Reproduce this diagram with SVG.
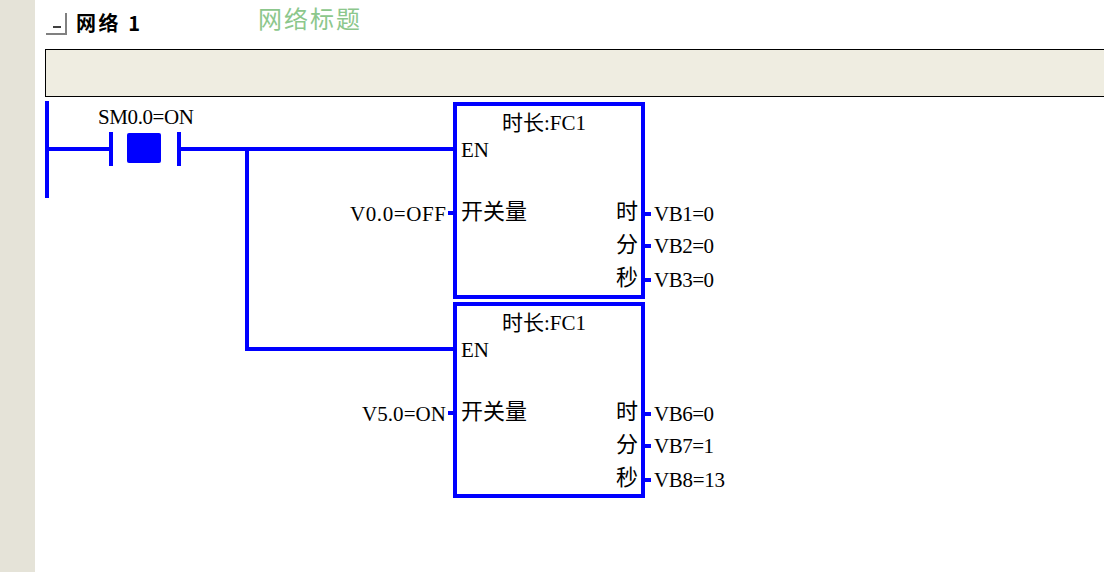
<svg xmlns="http://www.w3.org/2000/svg" width="1104" height="572" viewBox="0 0 1104 572">
<style>
.w{stroke:#0000ff;stroke-width:4;fill:none}
.t{font-family:"Liberation Serif","Noto Sans CJK SC",serif;font-size:21px;fill:#000}
.c{font-family:"Noto Sans CJK SC",sans-serif;font-size:22px;fill:#000}
.box{stroke:#0000ff;stroke-width:4;fill:#fff}
</style>
<rect x="0" y="0" width="1104" height="572" fill="#fff"/>
<rect x="0" y="0" width="35" height="572" fill="#e5e3d8"/>
<g id="header">
<path d="M46 34 H66 V13" stroke="#808080" stroke-width="2" fill="none"/>
<line x1="53" y1="27" x2="61" y2="27" stroke="#000" stroke-width="1.5"/>
<text x="76" y="31" font-family="'Noto Sans CJK SC',sans-serif" font-size="20" font-weight="bold" textLength="64">网络 1</text>
<text x="258" y="28" font-family="'Noto Sans CJK SC',sans-serif" font-size="24" fill="#8cc78c" textLength="102">网络标题</text>
<rect x="45.5" y="49.5" width="1070" height="47" fill="#efede1" stroke="#000" stroke-width="1"/>
</g>
<g id="connectors">
<line class="w" x1="47" y1="101" x2="47" y2="198"/>
<line class="w" x1="47" y1="149" x2="111" y2="149"/>
<line class="w" x1="179" y1="149" x2="455" y2="149"/>
<polyline class="w" points="247,149 247,349 455,349"/>
<line class="w" x1="448" y1="213" x2="455" y2="213"/>
<line class="w" x1="448" y1="413" x2="455" y2="413"/>
<line class="w" x1="643" y1="214" x2="651" y2="214"/>
<line class="w" x1="643" y1="246" x2="651" y2="246"/>
<line class="w" x1="643" y1="280" x2="651" y2="280"/>
<line class="w" x1="643" y1="414" x2="651" y2="414"/>
<line class="w" x1="643" y1="446" x2="651" y2="446"/>
<line class="w" x1="643" y1="480" x2="651" y2="480"/>
</g>
<g id="contact">
<line class="w" x1="111" y1="132" x2="111" y2="166"/>
<line class="w" x1="179" y1="132" x2="179" y2="166"/>
<rect x="127" y="133" width="34" height="30" rx="2" fill="#0000ff"/>
<text class="t" x="98" y="124" textLength="96">SM0.0=ON</text>
</g>
<g id="fc1a">
<rect class="box" x="455" y="104" width="188" height="193"/>
<text class="t" x="502" y="130">时长:FC1</text>
<text class="t" x="461" y="157">EN</text>
<text class="c" x="461" y="219">开关量</text>
<text class="c" x="638" y="219" text-anchor="end">时</text>
<text class="c" x="638" y="252" text-anchor="end">分</text>
<text class="c" x="638" y="285" text-anchor="end">秒</text>
<text class="t" x="350" y="221" textLength="96">V0.0=OFF</text>
<text class="t" x="654" y="221" textLength="60">VB1=0</text>
<text class="t" x="654" y="253" textLength="60">VB2=0</text>
<text class="t" x="654" y="287" textLength="60">VB3=0</text>
</g>
<g id="fc1b">
<rect class="box" x="455" y="304" width="188" height="192"/>
<text class="t" x="502" y="330">时长:FC1</text>
<text class="t" x="461" y="357">EN</text>
<text class="c" x="461" y="419">开关量</text>
<text class="c" x="638" y="419" text-anchor="end">时</text>
<text class="c" x="638" y="452" text-anchor="end">分</text>
<text class="c" x="638" y="485" text-anchor="end">秒</text>
<text class="t" x="362" y="421" textLength="84">V5.0=ON</text>
<text class="t" x="654" y="421" textLength="60">VB6=0</text>
<text class="t" x="654" y="453" textLength="60">VB7=1</text>
<text class="t" x="654" y="487" textLength="71">VB8=13</text>
</g>
</svg>
